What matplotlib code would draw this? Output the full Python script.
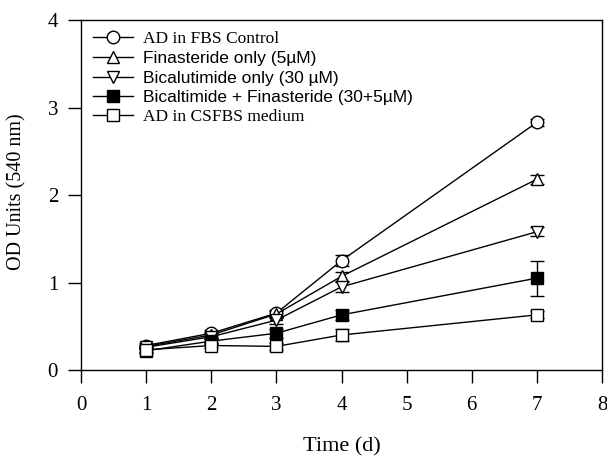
import matplotlib
matplotlib.use("Agg")
import matplotlib.pyplot as plt

days = [1, 2, 3, 4, 7]
labels = ["AD in FBS Control", "Finasteride only (5\u00b5M)", "Bicalutimide only (30 \u00b5M)",
          "Bicaltimide + Finasteride (30+5\u00b5M)", "AD in CSFBS medium"]
fbs_control = [0.28, 0.42, 0.65, 1.25, 2.83]
finasteride = [0.27, 0.40, 0.64, 1.07, 2.18]
bicalutamide = [0.26, 0.38, 0.57, 0.95, 1.58]
combo = [0.22, 0.33, 0.42, 0.63, 1.05]
csfbs = [0.23, 0.28, 0.27, 0.40, 0.63]
err_fbs = [0.03, 0.04, 0.04, 0.06, 0.04]
err_fin = [0.02, 0.03, 0.04, 0.05, 0.05]
err_bic = [0.02, 0.03, 0.04, 0.06, 0.05]
err_combo = [0.02, 0.03, 0.05, 0.06, 0.20]
err_cs = [0.02, 0.03, 0.04, 0.07, 0.04]

series = [fbs_control, finasteride, bicalutamide, combo, csfbs]
errors = [err_fbs, err_fin, err_bic, err_combo, err_cs]
markers = ["o", "^", "v", "s", "s"]
faces = ["white", "white", "white", "black", "white"]
fonts = ["Liberation Serif", "Liberation Sans", "Liberation Sans", "Liberation Sans", "Liberation Serif"]

fig = plt.figure(figsize=(6.07, 4.61), dpi=100)
ax = fig.add_axes([81/607, 91/461, 521/607, 350/461])

handles = []
for y, e, m, fc, lab in zip(series, errors, markers, faces, labels):
    ax.errorbar(days, y, yerr=e, fmt="none", ecolor="black", elinewidth=1, capsize=5, capthick=1, zorder=2)
    h, = ax.plot(days, y, color="black", lw=1, marker=m, markersize=9, markerfacecolor=fc,
                 markeredgecolor="black", markeredgewidth=1, label=lab, zorder=3)
    handles.append(h)

ax.set_xlim(0, 8)
ax.set_ylim(0, 4)
ax.set_xticks(range(0, 9))
ax.set_yticks(range(0, 5))
ax.tick_params(direction="out", length=9.5, width=1, labelsize=15)
ax.tick_params(axis="x", pad=9)
ax.tick_params(axis="y", pad=7)
for t in ax.get_xticklabels() + ax.get_yticklabels():
    t.set_fontfamily("Liberation Serif")
for s in ax.spines.values():
    s.set_linewidth(1)

fig.text(341.5/607, 1 - 447/461, "Time (d)", fontsize=16, fontfamily="Liberation Serif",
         ha="center", va="center")
fig.text(17/607, 1 - 192/461, "OD Units (540 nm)", fontsize=14.5, fontfamily="Liberation Serif",
         ha="center", va="center", rotation=90)

leg = ax.legend(handles=handles, loc="upper left", frameon=False, fontsize=12.5,
                handlelength=2.3, handletextpad=0.6, labelspacing=0.24,
                borderpad=0, borderaxespad=0, bbox_to_anchor=(12/521, 1 - 11/350))
for t, f in zip(leg.get_texts(), fonts):
    t.set_fontfamily(f)

fig.savefig("out.png", dpi=100)
